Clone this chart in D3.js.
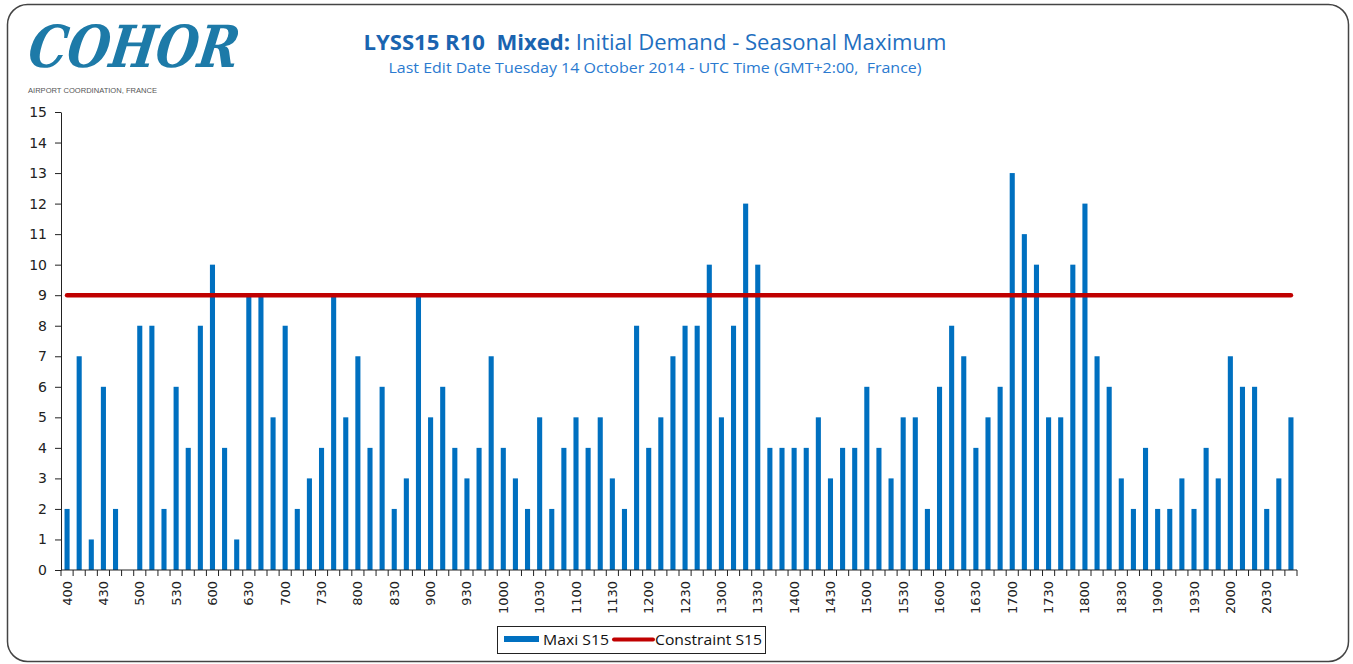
<!DOCTYPE html>
<html><head><meta charset="utf-8">
<script src="https://cdn.jsdelivr.net/npm/d3@7"></script>
<style>body{margin:0;background:#fff}svg{display:block}text{white-space:pre}</style>
</head><body>
<svg id="c" width="1353" height="664"></svg>
<script>
const slots = ["400","410","420","430","440","450","500","510","520","530","540","550","600","610","620","630","640","650","700","710","720","730","740","750","800","810","820","830","840","850","900","910","920","930","940","950","1000","1010","1020","1030","1040","1050","1100","1110","1120","1130","1140","1150","1200","1210","1220","1230","1240","1250","1300","1310","1320","1330","1340","1350","1400","1410","1420","1430","1440","1450","1500","1510","1520","1530","1540","1550","1600","1610","1620","1630","1640","1650","1700","1710","1720","1730","1740","1750","1800","1810","1820","1830","1840","1850","1900","1910","1920","1930","1940","1950","2000","2010","2020","2030","2040","2050"];
const maxiS15 = [2,7,1,6,2,0, 8,8,2,6,4,8, 10,4,1,9,9,5, 8,2,3,4,9,5, 7,4,6,2,3,9, 5,6,4,3,4,7, 4,3,2,5,2,4, 5,4,5,3,2,8, 4,5,7,8,8,10, 5,8,12,10,4,4, 4,4,5,3,4,4, 6,4,3,5,5,2, 6,8,7,4,5,6, 13,11,10,5,5,10, 12,7,6,3,2,4, 2,2,3,2,4,3, 7,6,6,2,3,5];
const constraintS15 = 9;
const yTicks = [0,1,2,3,4,5,6,7,8,9,10,11,12,13,14,15];
const xLabels = slots.filter((d,i)=>i%3===0);
const titleBold = "LYSS15 R10  Mixed:";
const titleRest = " Initial Demand - Seasonal Maximum";
const subtitle = "Last Edit Date Tuesday 14 October 2014 - UTC Time (GMT+2:00,  France)";
const legendNames = ["Maxi S15","Constraint S15"];

const svg = d3.select("#c");
const L = 61, R = 1297, T = 112, B = 570;

// frame
svg.append("rect").attr("x",7.5).attr("y",4.5).attr("width",1341).attr("height",657)
  .attr("rx",20).attr("fill","#fff").attr("stroke","#444").attr("stroke-width",1.5);

// logo
svg.append("text").attr("x",28).attr("y",67).attr("font-family","DejaVu Serif")
  .attr("font-style","italic").attr("font-weight","bold").attr("font-size",58)
  .attr("fill","#1d7aa8").attr("textLength",210).attr("lengthAdjust","spacingAndGlyphs")
  .attr("transform","skewX(-8) translate(8,0)")
  .text("COHOR");
svg.append("text").attr("x",28).attr("y",93).attr("font-family","Liberation Sans")
  .attr("font-size",7).attr("fill","#555").attr("textLength",129).attr("lengthAdjust","spacingAndGlyphs")
  .text("AIRPORT COORDINATION, FRANCE");

// titles
const t = svg.append("text").attr("x",655).attr("y",50).attr("text-anchor","middle")
  .attr("font-family","Open Sans").attr("font-size",21).attr("fill","#1f6fbf")
  .attr("textLength",583).attr("lengthAdjust","spacingAndGlyphs");
t.append("tspan").attr("font-weight","bold").attr("fill","#1a64b0").text(titleBold);
t.append("tspan").text(titleRest);
svg.append("text").attr("x",655).attr("y",73).attr("text-anchor","middle")
  .attr("font-family","Open Sans").attr("font-size",14).attr("fill","#2a7ad0")
  .attr("textLength",533).attr("lengthAdjust","spacingAndGlyphs").text(subtitle);

const x = d3.scaleBand().domain(slots).range([L,R]).paddingInner(0.58).paddingOuter(0.29);
const y = d3.scaleLinear().domain([0,15]).range([B,T]);

// bars
svg.append("g").selectAll("rect").data(maxiS15).join("rect")
  .attr("x",(d,i)=>x(slots[i])).attr("width",x.bandwidth())
  .attr("y",d=>y(d)).attr("height",d=>B-y(d)).attr("fill","#0070c0");

// constraint line
const cx0 = x(slots[0])+x.bandwidth()/2, cx1 = x(slots[slots.length-1])+x.bandwidth()/2;
svg.append("line").attr("x1",cx0).attr("x2",cx1).attr("y1",y(constraintS15)).attr("y2",y(constraintS15))
  .attr("stroke","#c00000").attr("stroke-width",4.5).attr("stroke-linecap","round");

// y axis
const ya = svg.append("g").attr("transform",`translate(${L},0)`)
  .call(d3.axisLeft(y).tickValues(yTicks).tickSize(6).tickPadding(8).tickSizeOuter(0));
ya.select(".domain").attr("stroke","#222");
ya.selectAll(".tick line").attr("stroke","#222");
ya.selectAll("text").attr("font-family","DejaVu Sans").attr("font-size",14).attr("fill","#222");

// x axis: ticks at boundaries
const xa = svg.append("g").attr("transform",`translate(0,${B})`);
xa.append("line").attr("x1",L).attr("x2",R).attr("stroke","#222");
const step = x.step();
xa.selectAll("line.tk").data(d3.range(slots.length+1)).join("line").attr("class","tk")
  .attr("x1",i=>L+i*step).attr("x2",i=>L+i*step).attr("y1",0).attr("y2",6).attr("stroke","#222");
xa.selectAll("text").data(xLabels).join("text")
  .attr("transform",d=>`translate(${x(d)+x.bandwidth()/2+4.5},11) rotate(-90)`)
  .attr("text-anchor","end").attr("font-family","DejaVu Sans").attr("font-size",13).attr("fill","#222")
  .text(d=>d);

// legend
const lg = svg.append("g");
lg.append("rect").attr("x",497.5).attr("y",626.5).attr("width",268).attr("height",27)
  .attr("fill","#fff").attr("stroke","#222").attr("stroke-width",1);
lg.append("rect").attr("x",504).attr("y",636).attr("width",35).attr("height",6).attr("fill","#0070c0");
lg.append("text").attr("x",543).attr("y",645).attr("font-family","Open Sans").attr("font-size",14.5)
  .attr("fill","#111").attr("textLength",66).attr("lengthAdjust","spacingAndGlyphs").text(legendNames[0]);
lg.append("line").attr("x1",614).attr("x2",653).attr("y1",639.5).attr("y2",639.5)
  .attr("stroke","#c00000").attr("stroke-width",4).attr("stroke-linecap","round");
lg.append("text").attr("x",655).attr("y",645).attr("font-family","Open Sans").attr("font-size",14.5)
  .attr("fill","#111").attr("textLength",107).attr("lengthAdjust","spacingAndGlyphs").text(legendNames[1]);
</script>
</body></html>
